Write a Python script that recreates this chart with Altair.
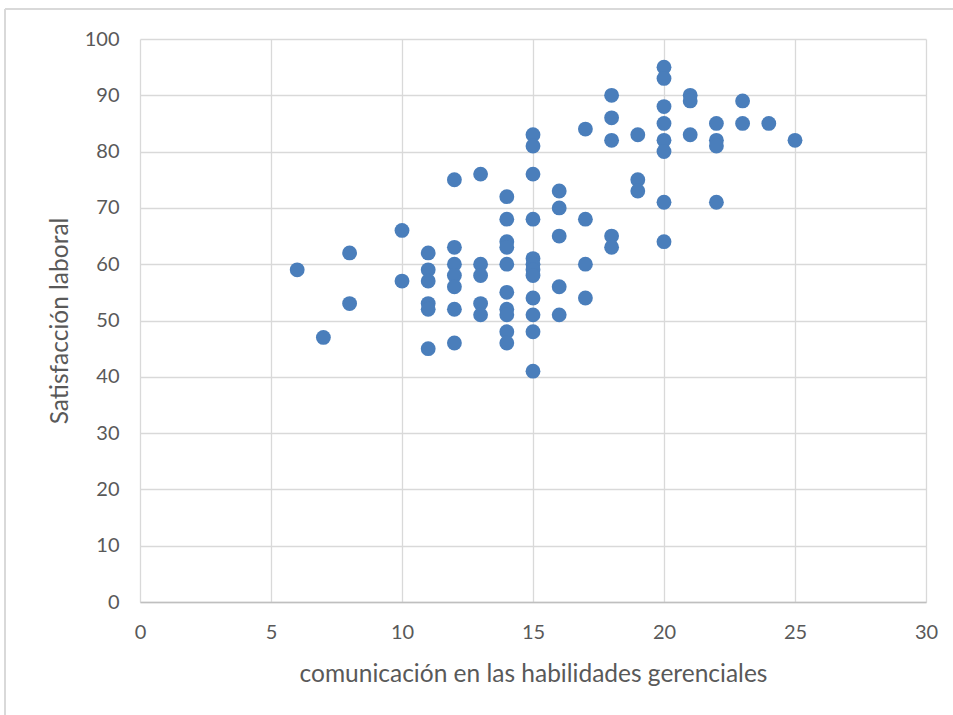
import altair as alt
import pandas as pd

# comunicación score -> satisfacción laboral values observed at that score
comunicacion = (
    [6] + [7] + [8] * 2 + [10] * 2 + [11] * 6 + [12] * 7 + [13] * 5 + [14] * 10
    + [15] * 12 + [16] * 5 + [17] * 4 + [18] * 5 + [19] * 3 + [20] * 8
    + [21] * 3 + [22] * 4 + [23] * 2 + [24] + [25]
)
satisfaccion = (
    [59]
    + [47]
    + [62, 53]
    + [66, 57]
    + [62, 59, 57, 53, 52, 45]
    + [75, 63, 60, 58, 56, 52, 46]
    + [76, 60, 58, 53, 51]
    + [72, 68, 64, 63, 60, 55, 52, 51, 48, 46]
    + [83, 81, 76, 68, 61, 60, 59, 58, 54, 51, 48, 41]
    + [73, 70, 65, 56, 51]
    + [84, 68, 60, 54]
    + [90, 86, 82, 65, 63]
    + [83, 75, 73]
    + [95, 93, 88, 85, 82, 80, 71, 64]
    + [90, 89, 83]
    + [85, 82, 81, 71]
    + [89, 85]
    + [85]
    + [82]
)

x_ticks = [0, 5, 10, 15, 20, 25, 30]
y_ticks = [0, 10, 20, 30, 40, 50, 60, 70, 80, 90, 100]

df = pd.DataFrame({"comunicacion": comunicacion, "satisfaccion": satisfaccion})

FONT = "Lato"
TEXT = "#595959"
GRID = "#d9d9d9"

points = alt.Chart(df).mark_circle(size=220, opacity=1, color="#4a7ebb").encode(
    x=alt.X(
        "comunicacion:Q",
        scale=alt.Scale(domain=[0, 30], nice=False, zero=True),
        axis=alt.Axis(
            values=x_ticks,
            title="comunicación en las habilidades gerenciales",
            titlePadding=20,
            labelPadding=20,
            labelFlush=False,
        ),
    ),
    y=alt.Y(
        "satisfaccion:Q",
        scale=alt.Scale(domain=[0, 100], nice=False),
        axis=alt.Axis(
            values=y_ticks,
            title="Satisfacción laboral",
            titlePadding=12,
            labelPadding=21,
            labelFlush=False,
            domain=False,
        ),
    ),
)

# light frame around the whole chart
frame_left = alt.Chart(df).mark_rule(color=GRID, strokeWidth=1.5).encode(
    x=alt.value(-135), y=alt.value(-30), y2=alt.value(700)
)
frame_top = alt.Chart(df).mark_rule(color=GRID, strokeWidth=1.5).encode(
    x=alt.value(-135), x2=alt.value(900), y=alt.value(-30)
)

chart = (
    alt.layer(frame_left, frame_top, points)
    .properties(
        width=786,
        height=563,
        autosize=alt.AutoSizeParams(type="none"),
        padding={"left": 140, "top": 39, "right": 27, "bottom": 113},
        background="white",
    )
    .configure_view(stroke=None)
    .configure_axis(
        grid=True,
        gridColor=GRID,
        gridWidth=1.3,
        ticks=False,
        domainColor="#bfbfbf",
        domainWidth=1.3,
        labelFont=FONT,
        labelFontSize=20,
        labelColor=TEXT,
        titleFont=FONT,
        titleFontSize=24.5,
        titleColor=TEXT,
        titleFontWeight="normal",
    )
)

chart.save("out.html", embed_options={"renderer": "svg", "actions": False})
